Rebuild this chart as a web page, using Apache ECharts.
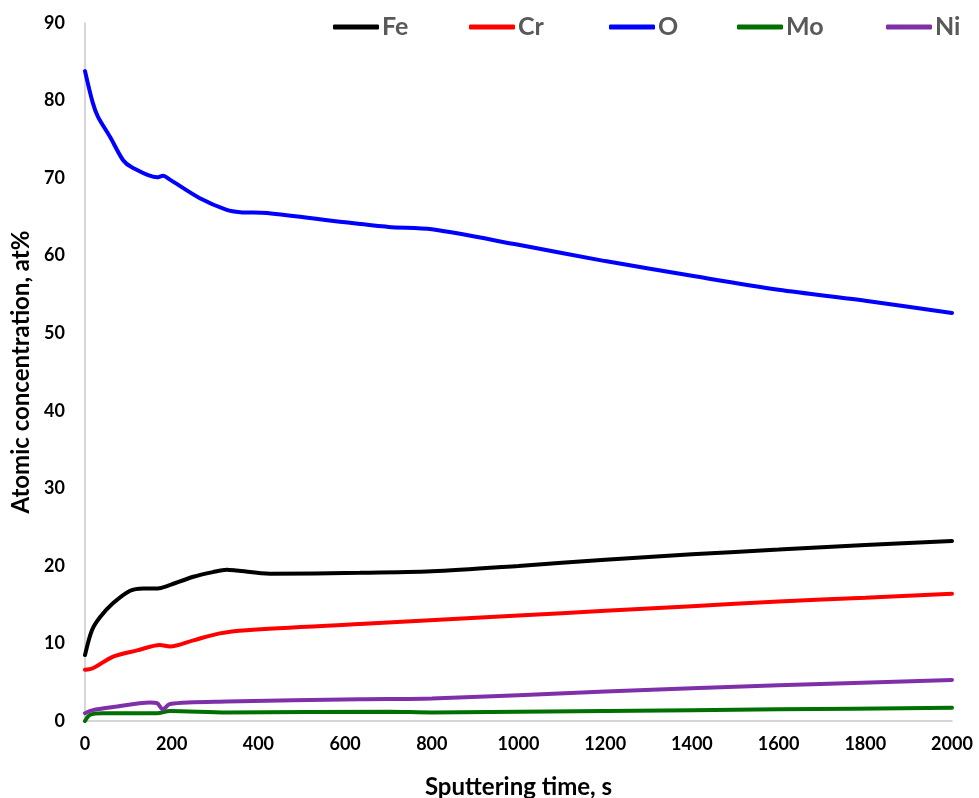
<!DOCTYPE html>
<html>
<head>
<meta charset="utf-8">
<script src="https://cdn.jsdelivr.net/npm/echarts@6/dist/echarts.min.js"></script>
<style>html,body{margin:0;padding:0;background:#fff}#c{width:979px;height:798px}</style>
</head>
<body>
<div id="c"></div>
<script>
const seriesNames = ['Fe', 'Cr', 'O', 'Mo', 'Ni'];
const seriesColors = ['#000000', '#ff0000', '#0000ff', '#007000', '#7f30a8'];

const feTime = [0, 16, 35, 65, 104, 134, 168, 189, 250, 295, 327, 350, 427, 634, 800, 1000, 1200, 1400, 1600, 1800, 2000];
const feVal  = [8.5, 11.7, 13.4, 15.2, 16.8, 17.1, 17.1, 17.4, 18.6, 19.2, 19.5, 19.4, 19.0, 19.1, 19.3, 20.0, 20.8, 21.5, 22.1, 22.7, 23.2];

const crTime = [0, 18, 65, 120, 173, 196, 250, 311, 373, 634, 1000, 1200, 1400, 1600, 1800, 2000];
const crVal  = [6.6, 6.8, 8.3, 9.1, 9.8, 9.6, 10.4, 11.3, 11.7, 12.5, 13.6, 14.2, 14.8, 15.4, 15.9, 16.4];

const oTime = [0, 18, 30, 58, 88, 108, 166, 180, 196, 265, 327, 358, 420, 600, 700, 800, 1000, 1200, 1400, 1600, 1800, 2000];
const oVal  = [83.8, 79.7, 77.9, 75.3, 72.3, 71.4, 70.1, 70.3, 69.8, 67.4, 65.9, 65.6, 65.5, 64.3, 63.7, 63.4, 61.4, 59.3, 57.4, 55.6, 54.2, 52.6];

const moTime = [0, 12, 40, 166, 196, 327, 700, 800, 1200, 1600, 2000];
const moVal  = [0.0, 0.8, 1.0, 1.0, 1.3, 1.1, 1.2, 1.1, 1.3, 1.5, 1.7];

const niTime = [0, 18, 65, 150, 166, 180, 196, 327, 634, 800, 1200, 1600, 2000];
const niVal  = [1.0, 1.4, 1.8, 2.4, 2.3, 1.5, 2.2, 2.5, 2.8, 2.9, 3.8, 4.6, 5.3];

const xTicks = {min: 0, max: 2000, interval: 200};
const yTicks = {min: 0, max: 90, interval: 10};

const times = [feTime, crTime, oTime, moTime, niTime];
const vals = [feVal, crVal, oVal, moVal, niVal];
const legendLefts = [333, 469, 609, 737, 886];

const chart = echarts.init(document.getElementById('c'));
const font = 'Lato';
chart.setOption({
  animation: false,
  backgroundColor: '#fff',
  grid: {left: 85, right: 27, top: 23, bottom: 77, containLabel: false, outerBoundsMode: 'none'},
  legend: seriesNames.map((n, i) => ({
    top: 14, left: legendLefts[i], padding: 0,
    itemWidth: 46, itemHeight: 5,
    icon: 'roundRect',
    textStyle: {color: '#595959', fontSize: 25, lineHeight: 26, fontWeight: 'bold', fontFamily: font, padding: [0,0,0,-2]},
    data: [n]
  })),
  xAxis: {
    type: 'value', min: xTicks.min, max: xTicks.max, interval: xTicks.interval,
    name: 'Sputtering time, s', nameLocation: 'middle', nameGap: 54,
    nameTextStyle: {color: '#000', fontSize: 24, fontWeight: 'bold', fontFamily: font},
    axisLine: {lineStyle: {color: '#c8c8c8', width: 1.5}},
    axisTick: {show: false},
    splitLine: {show: false},
    axisLabel: {color: '#000', fontSize: 18, fontWeight: 'bold', fontFamily: font, margin: 14,
      formatter: v => String(v)}
  },
  yAxis: {
    type: 'value', min: yTicks.min, max: yTicks.max, interval: yTicks.interval,
    name: 'Atomic concentration, at%', nameLocation: 'middle', nameGap: 50,
    nameTextStyle: {color: '#000', fontSize: 24, fontWeight: 'bold', fontFamily: font},
    axisLine: {show: true, lineStyle: {color: '#c8c8c8', width: 1.5}},
    axisTick: {show: false},
    splitLine: {show: false},
    axisLabel: {color: '#000', fontSize: 18, fontWeight: 'bold', fontFamily: font, margin: 20}
  },
  series: seriesNames.map((n, i) => ({
    name: n, type: 'line', smooth: 0.3, showSymbol: false, symbol: 'none',
    color: seriesColors[i],
    lineStyle: {width: 4, color: seriesColors[i], cap: 'round'},
    data: times[i].map((t, k) => [t, vals[i][k]])
  }))
});
</script>
</body>
</html>
